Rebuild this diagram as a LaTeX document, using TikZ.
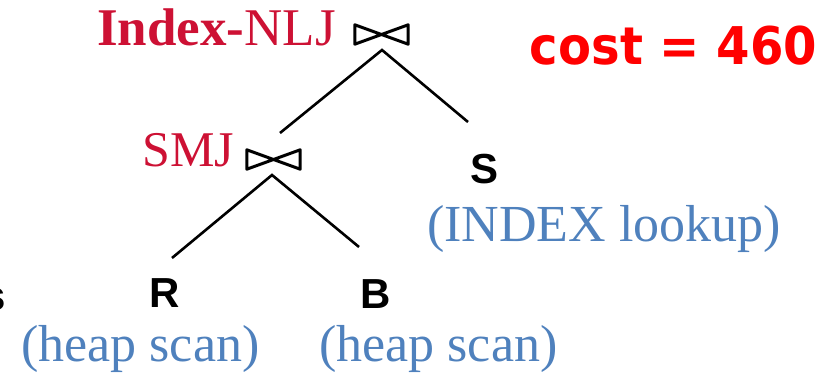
\documentclass[tikz,border=0pt]{standalone}
\usepackage{fontspec}
\setmainfont{Liberation Serif}
\newfontfamily\arialfont{Liberation Sans}
\newfontfamily\costfont{DejaVu Sans}
\definecolor{opred}{RGB}{205,17,52}
\definecolor{accblue}{RGB}{79,129,189}
\definecolor{costred}{RGB}{255,0,0}
\begin{document}
\begin{tikzpicture}[x=1pt,y=-1pt,
  optext/.style={inner sep=0pt, text=opred, anchor=base west},
  reltext/.style={inner sep=0pt, font=\arialfont\bfseries\fontsize{42}{42}\selectfont, anchor=base},
  acctext/.style={inner sep=0pt, text=accblue, font=\fontsize{52}{52}\selectfont, anchor=base west},
  bowtie/.style={inner sep=0pt, minimum width=53pt, minimum height=19pt},
  bowline/.style={line width=3pt, line join=round},
  edge/.style={line width=2.6pt}]
\useasboundingbox (0,0) rectangle (821,374);
% operator labels
\node[optext, font=\fontsize{53}{53}\selectfont] (nlj) at (97,46) {\textbf{Index-}NLJ};
\node[optext, font=\fontsize{50}{50}\selectfont] (smj) at (142,167) {SMJ};
% join symbols
\node[bowtie] (j1) at (381.5,34.5) {};
\node[bowtie] (j2) at (273.5,159.5) {};
\draw[bowline] (j1.north west) -- (j1.south east) -- (j1.north east) -- (j1.south west) -- cycle;
\draw[bowline] (j2.north west) -- (j2.south east) -- (j2.north east) -- (j2.south west) -- cycle;
% relations
\node[reltext] (S) at (484.5,183) {S};
\node[reltext] (R) at (165,307) {R};
\node[reltext] (B) at (376,308) {B};
\node[reltext, anchor=base east] (frag) at (6,310) {s};
% access methods
\node[acctext] (sacc) at (427,241) {(INDEX lookup)};
\node[acctext] (racc) at (21,361) {(heap scan)};
\node[acctext] (bacc) at (319,361) {(heap scan)};
% cost
\node[inner sep=0pt, anchor=base, text=costred, font=\costfont\bfseries\fontsize{52}{52}\selectfont, xscale=0.925] (cost) at (673.5,65) {cost = 460};
% connector ends
\coordinate (j1a) at (382,50);
\coordinate (j2a) at (272,175);
\coordinate (toj2) at (280,133);
\coordinate (toS) at (468,122);
\coordinate (toR) at (172,258);
\coordinate (toB) at (359,247);
\draw[edge] (toj2) -- (j1a) -- (toS);
\draw[edge] (toR) -- (j2a) -- (toB);
\end{tikzpicture}
\end{document}
